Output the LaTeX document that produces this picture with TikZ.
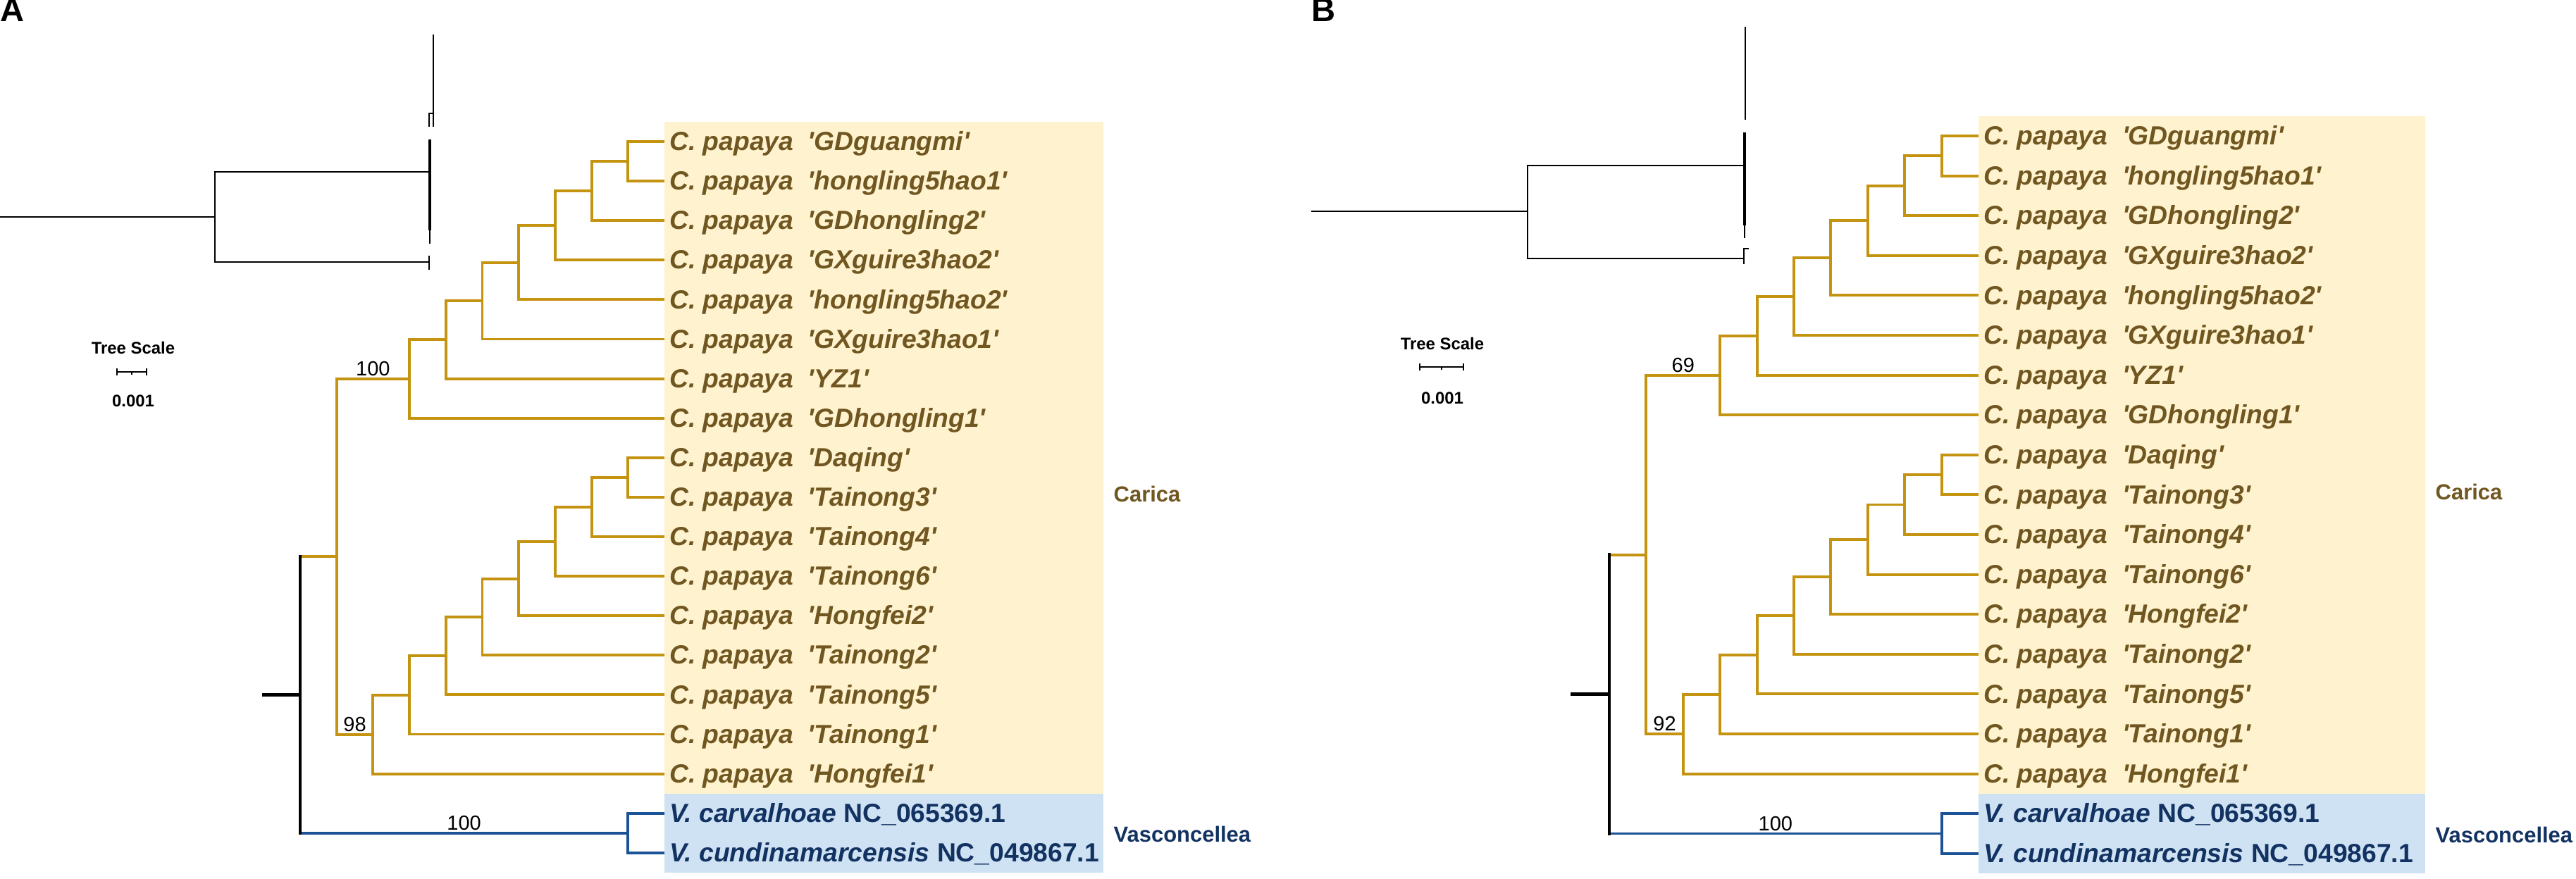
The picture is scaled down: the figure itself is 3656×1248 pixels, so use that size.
\documentclass[tikz,border=0pt]{standalone}
\usepackage{fontspec}
\setmainfont{Liberation Sans}

\definecolor{cabranch}{RGB}{196,148,16}
\definecolor{catext}{RGB}{112,86,32}
\definecolor{cafill}{RGB}{255,242,206}
\definecolor{vabranch}{RGB}{28,82,150}
\definecolor{vatext}{RGB}{18,50,98}
\definecolor{vafill}{RGB}{207,226,243}

\newcommand{\papaya}[1]{C. papaya\hspace{0.556em}\textquotesingle#1\textquotesingle}

\tikzset{
  leaf/.style={anchor=west, inner xsep=0.065cm, inner ysep=0pt, text height=0.72em, text depth=0pt,
    text=catext, font=\fontsize{10.6}{12}\selectfont\bfseries\itshape},
  vleaf/.style={leaf, text=vatext, font=\fontsize{10.6}{12}\selectfont\bfseries},
  group/.style={anchor=west, inner sep=0pt, text height=0.72em, text depth=0pt,
    font=\fontsize{8.8}{10}\selectfont\bfseries},
  boot/.style={anchor=south, inner sep=1pt, font=\fontsize{8.25}{10}\selectfont},
  carbranch/.style={draw=cabranch, line width=1.1pt},
  vasbranch/.style={draw=vabranch, line width=1.1pt},
  rootline/.style={draw=black, line width=1.3pt, line cap=rect},
  mini/.style={draw=black, line width=0.6pt},
  scaletext/.style={inner sep=0pt, text height=0.72em, text depth=0pt,
    font=\fontsize{6.8}{8}\selectfont\bfseries},
  panel/.style={anchor=north west, inner sep=0pt, text height=0.72em, text depth=0pt,
    font=\fontsize{13.4}{15}\selectfont\bfseries}
}

% #1 prefix, #2 leaf x, #3 step, #4 first row, #5 row gap, #6 box width, #7 #8 support values
\newcommand{\drawtree}[8]{
  % clade boxes
  \fill[cafill] ({#2},{#4-0.5*#5}) rectangle ({#2+#6},{#4+16.5*#5});
  \fill[vafill] ({#2},{#4+16.5*#5}) rectangle ({#2+#6},{#4+18.5*#5});
  % leaves
  \foreach \lab [count=\i from 0] in {GDguangmi,hongling5hao1,GDhongling2,GXguire3hao2,
      hongling5hao2,GXguire3hao1,YZ1,GDhongling1,Daqing,Tainong3,Tainong4,Tainong6,
      Hongfei2,Tainong2,Tainong5,Tainong1,Hongfei1}
    \node[leaf] (#1l\i) at (#2,{#4+\i*#5}) {\papaya{\lab}};
  \node[vleaf] (#1l17) at (#2,{#4+17*#5}) {\textit{V. carvalhoae} NC\_065369.1};
  \node[vleaf] (#1l18) at (#2,{#4+18*#5}) {\textit{V. cundinamarcensis} NC\_049867.1};
  \node[group, text=catext] (#1carica) at ({#2+#6+14},{#4+8.9*#5}) {Carica};
  \node[group, text=vatext] (#1vasc) at ({#2+#6+14},{#4+17.5*#5}) {Vasconcellea};
  % upper ladder
  \coordinate (#1t0) at (#1l0.west);
  \foreach \k/\r in {1/0.5,2/1.25,3/2.125,4/3.0625,5/4.03125,6/5.015625,7/6.0078125}
    \coordinate (#1t\k) at ({#2-\k*#3},{#4+\r*#5});
  \foreach \k [evaluate=\k as \p using int(\k-1)] in {1,...,7}
    \draw[carbranch] (#1t\p) -| (#1t\k) |- (#1l\k.west);
  % lower ladder
  \coordinate (#1b0) at (#1l8.west);
  \foreach \k/\r in {1/8.5,2/9.25,3/10.125,4/11.0625,5/12.03125,6/13.015625,7/14.0078125,8/15.00390625}
    \coordinate (#1b\k) at ({#2-\k*#3},{#4+\r*#5});
  \foreach \k [evaluate=\k as \p using int(\k-1), evaluate=\k as \j using int(\k+8)] in {1,...,8}
    \draw[carbranch] (#1b\p) -| (#1b\k) |- (#1l\j.west);
  % clades and root
  \coordinate (#1cr) at ({#2-9*#3},{#4+10.505859*#5});
  \coordinate (#1vn) at ({#2-#3},{#4+17.5*#5});
  \coordinate (#1rt) at ({#2-10*#3},{#4+14.0029*#5});
  \coordinate (#1stub) at ({#2-11*#3},{#4+14.0029*#5});
  \draw[carbranch] (#1t7) -| (#1cr) |- (#1b8);
  \draw[vasbranch] (#1l17.west) -| (#1vn) |- (#1l18.west);
  \draw[carbranch] (#1cr) -- (#1cr -| #1rt);
  \draw[vasbranch] (#1vn) -- (#1vn -| #1rt);
  \draw[rootline] (#1cr -| #1rt) -- (#1vn -| #1rt);
  \draw[rootline] (#1stub) -- (#1rt);
  % support values
  \path (#1cr |- #1t7) -- (#1t7) node[boot, midway] (#1sup1) {#7};
  \path (#1cr |- #1b8) -- (#1b8) node[boot, midway] (#1sup2) {#8};
  \path (#1vn -| #1rt) -- (#1vn) node[boot, midway] (#1sup3) {100};
}

\begin{document}
\begin{tikzpicture}[x=0.01cm, y=-0.01cm]
\useasboundingbox (0,0) rectangle (3656,1248);

\node[panel] (labA) at (0,4) {A};
\node[panel] (labB) at (1861,4) {B};

% panel A overview
\draw[mini] (0,308) -- (305,308);
\draw[mini] (609,244) -| (305,372) -- (609,372);
\draw[mini] (609,363) -- (609,383);
\draw[mini] (615,49) -- (615,180);
\draw[mini] (609,180) |- (615,161);
\draw[mini, line width=1.1pt] (610,198) -- (610,327);
\draw[mini] (610,327) -- (610,346);
\node[scaletext] (scaleA) at (189,490) {Tree Scale};
\draw[mini] (166,528) -- (208,528);
\draw[mini] (166,523) -- (166,533);
\draw[mini] (208,523) -- (208,533);
\draw[mini] (187,528) -- (187,532);
\node[scaletext] (unitA) at (189,565) {0.001};

% panel B overview
\draw[mini] (1861,300) -- (2168,300);
\draw[mini] (2475,235) -| (2168,367) -- (2475,367);
\draw[mini] (2475,375) |- (2482,353);
\draw[mini] (2477,38) -- (2477,170);
\draw[mini, line width=1.1pt] (2476,188) -- (2476,320);
\draw[mini] (2476,320) -- (2476,338);
\node[scaletext] (scaleB) at (2047,484) {Tree Scale};
\draw[mini] (2015,521) -- (2077,521);
\draw[mini] (2015,516) -- (2015,526);
\draw[mini] (2077,516) -- (2077,526);
\draw[mini] (2046,521) -- (2046,525);
\node[scaletext] (unitB) at (2047,561) {0.001};

\drawtree{A}{943}{51.7}{201}{56.1}{623}{100}{98}
\drawtree{B}{2808}{52.4}{193}{56.6}{634}{69}{92}

\end{tikzpicture}
\end{document}
